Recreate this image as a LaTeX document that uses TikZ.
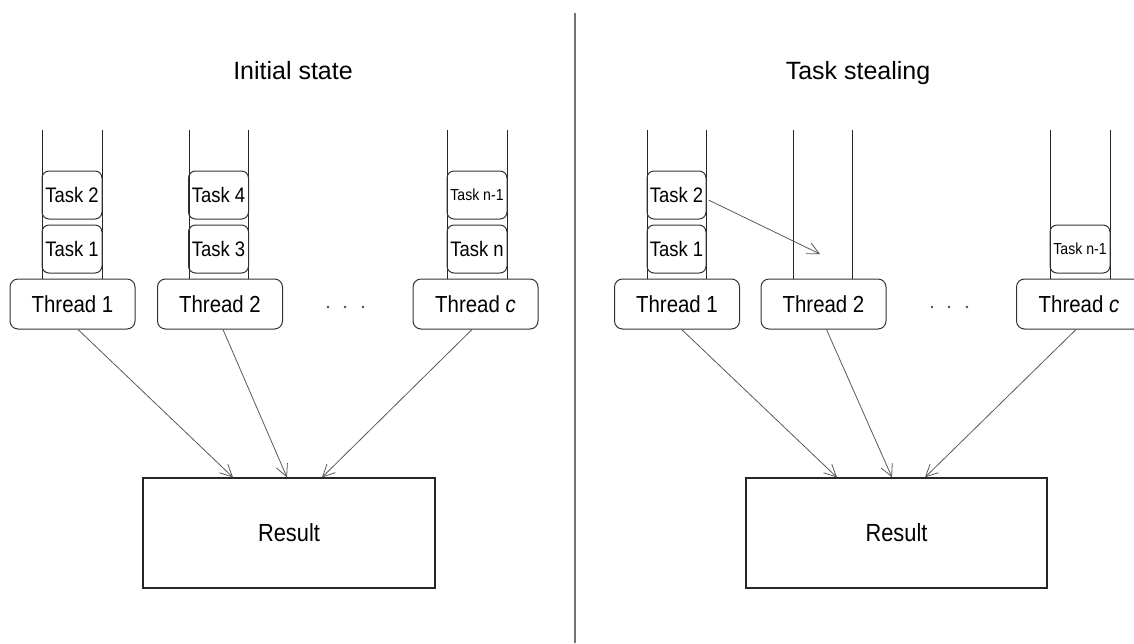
\documentclass[tikz,border=0pt]{standalone}
\usepackage{fontspec}
\setmainfont{Liberation Sans}
\newfontfamily\nfont{Liberation Sans}[FakeStretch=0.88]
\usetikzlibrary{arrows.meta}
\begin{document}
\begin{tikzpicture}[x=0.5pt,y=-0.5pt,
  thr/.style={draw=black!80, rounded corners=4pt, minimum width=62.5pt, minimum height=25pt, inner sep=0pt, line width=0.5pt, font=\nfont\fontsize{11.6}{13}\selectfont},
  task/.style={draw=black!80, rounded corners=3.5pt, minimum width=30pt, minimum height=24pt, inner sep=0pt, line width=0.5pt, font=\nfont\fontsize{10.5}{12}\selectfont},
  smalltask/.style={task, font=\nfont\fontsize{8}{10}\selectfont},
  res/.style={draw=black!85, minimum width=146pt, minimum height=55pt, inner sep=0pt, line width=0.6pt, font=\nfont\fontsize{12.4}{14}\selectfont},
  title/.style={anchor=base, font=\fontsize{12.5}{15}\selectfont},
  col/.style={draw=black!85, line width=0.5pt},
  arr/.style={draw=black!65, line width=0.4pt, -{Straight Barb[length=6pt,width=6pt,line width=0.4pt]}},
  dot/.style={circle, fill=black!70, inner sep=0pt, minimum size=1.3pt}
]
\useasboundingbox (0,0) rectangle (1134,643);
% divider
\draw[draw=black!55, line width=0.6pt] (575,13) -- (575,643);
% titles
\node[title] (titleL) at (293,79.3) {Initial state};
\node[title] (titleR) at (858,79.3) {Task stealing};

% ---------- left panel ----------
\draw[col] (42,130) -- (42,279);  \draw[col] (102,130) -- (102,279);
\draw[col] (189,130) -- (189,279); \draw[col] (248,130) -- (248,279);
\draw[col] (447,130) -- (447,279); \draw[col] (507,130) -- (507,279);

\node[task] (l12) at (72,195) {Task 2};
\node[task] (l11) at (72,249) {Task 1};
\node[task] (l24) at (218.5,195) {Task 4};
\node[task] (l23) at (218.5,249) {Task 3};
\node[smalltask] (lc2) at (477,195) {Task n-1};
\node[task] (lc1) at (477,249) {Task n};

\node[thr] (lt1) at (72.5,304) {Thread 1};
\node[thr] (lt2) at (220,304) {Thread 2};
\node[thr] (ltc) at (475.5,304) {Thread \textit{c}};

\node[dot] (ld1) at (328,307) {};
\node[dot] (ld2) at (345,307) {};
\node[dot] (ld3) at (363,307) {};

\node[res] (resL) at (289,533) {Result};

\draw[arr] ([xshift=2.75pt]lt1.south) -- ([xshift=-28pt]resL.north);
\draw[arr] ([xshift=1.5pt]lt2.south) -- ([xshift=-1pt]resL.north);
\draw[arr] ([xshift=-1.75pt]ltc.south) -- ([xshift=16.5pt]resL.north);

% ---------- right panel ----------
\draw[col] (647,130) -- (647,279);  \draw[col] (706,130) -- (706,279);
\draw[col] (793,130) -- (793,279); \draw[col] (852,130) -- (852,279);
\draw[col] (1050,130) -- (1050,279); \draw[col] (1110,130) -- (1110,279);

\node[task, minimum width=29.5pt] (r12) at (676.5,195) {Task 2};
\node[task, minimum width=29.5pt] (r11) at (676.5,249) {Task 1};
\node[smalltask] (rc1) at (1080,249) {Task n-1};

\node[thr] (rt1) at (677,304) {Thread 1};
\node[thr] (rt2) at (823.5,304) {Thread 2};
\node[thr] (rtc) at (1079,304) {Thread \textit{c}};

\node[dot] (rd1) at (932,307) {};
\node[dot] (rd2) at (949,307) {};
\node[dot] (rd3) at (967,307) {};

\node[res, minimum width=150.5pt] (resR) at (896.5,533) {Result};

\coordinate (stealend) at (820,254);
\draw[arr] ([shift={(2,5)}]r12.east) -- (stealend);

\draw[arr] ([xshift=2.35pt]rt1.south) -- ([xshift=-29.75pt]resR.north);
\draw[arr] ([xshift=1.5pt]rt2.south) -- ([xshift=-2.25pt]resR.north);
\draw[arr] ([xshift=-1.5pt]rtc.south) -- ([xshift=14.25pt]resR.north);
\end{tikzpicture}
\end{document}
